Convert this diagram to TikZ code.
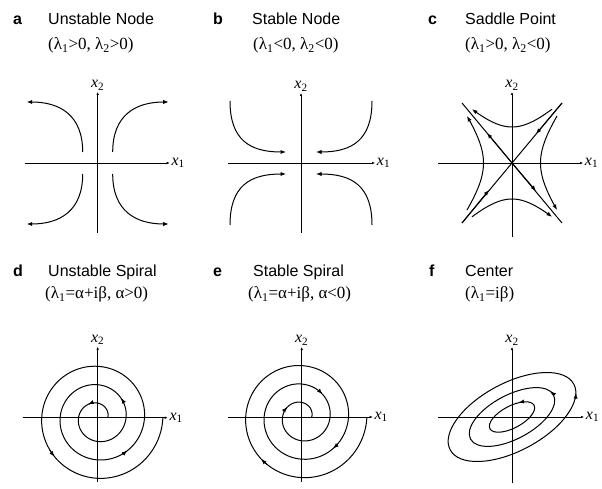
\documentclass[tikz,border=0pt]{standalone}
\usepackage{fontspec}
\setmainfont{Liberation Serif}
\setsansfont{Liberation Sans}
\usetikzlibrary{arrows.meta}

% axes of one phase portrait: name, left, right, bottom, top
\newcommand{\phaseaxes}[5]{%
  \draw[axis] (#2,0) -- (#3,0) node[lab, right] (#1-x1) {\textit{x}\textsubscript{1}};
  \draw[axis] (0,#4) -- (0,#5) node[lab, above] (#1-x2) {\textit{x}\textsubscript{2}};
}

\begin{document}
\begin{tikzpicture}[x=1pt, y=1pt,
    declare function={spr(\r)=10+0.051111*\r;},
    axis/.style={line width=0.8pt, -{Latex[length=3pt,width=2.6pt]}},
    flow/.style={line width=1pt},
    tip/.style={line width=1pt, -{Latex[length=5.5pt,width=4.2pt]}},
    letter/.style={anchor=base west, inner sep=0pt, font=\sffamily\bfseries\fontsize{16}{18}\selectfont},
    title/.style={anchor=base west, inner sep=0pt, font=\sffamily\fontsize{16}{18}\selectfont},
    cond/.style={anchor=base west, inner sep=0pt, font=\fontsize{17}{19}\selectfont},
    lab/.style={font=\fontsize{16}{18}\selectfont, inner sep=1.5pt}]

    \useasboundingbox (0,0) rectangle (602,-489);

    % ==========================================
    % Headings
    % ==========================================
    \node[letter] (a-tag) at (13,-24.5) {a};
    \node[title] (a-title) at (48,-24.5) {Unstable Node};
    \node[cond] (a-cond) at (48,-50) {(λ\textsubscript{1}>0, λ\textsubscript{2}>0)};

    \node[letter] (b-tag) at (213,-24.5) {b};
    \node[title] (b-title) at (252,-24.5) {Stable Node};
    \node[cond] (b-cond) at (253,-50) {(λ\textsubscript{1}<0, λ\textsubscript{2}<0)};

    \node[letter] (c-tag) at (428,-24.5) {c};
    \node[title] (c-title) at (465,-24.5) {Saddle Point};
    \node[cond] (c-cond) at (465,-50) {(λ\textsubscript{1}>0, λ\textsubscript{2}<0)};

    \node[letter] (d-tag) at (13,-276) {d};
    \node[title] (d-title) at (48,-276) {Unstable Spiral};
    \node[cond] (d-cond) at (45,-298.5) {(λ\textsubscript{1}=α+iβ, α>0)};

    \node[letter] (e-tag) at (213,-276) {e};
    \node[title] (e-title) at (253,-276) {Stable Spiral};
    \node[cond] (e-cond) at (248,-298.5) {(λ\textsubscript{1}=α+iβ, α<0)};

    \node[letter] (f-tag) at (429,-276) {f};
    \node[title] (f-title) at (465,-276) {Center};
    \node[cond] (f-cond) at (465,-298.5) {(λ\textsubscript{1}=iβ)};

    % ==========================================
    % (a) Unstable node
    % ==========================================
    \begin{scope}[shift={(97.7,-163)}]
        \phaseaxes{a}{-73}{72}{-70}{71}
        \foreach \sx in {1,-1}
            \foreach \sy in {1,-1}
                \draw[tip] (\sx*15,\sy*11) .. controls (\sx*15,\sy*48) and (\sx*38,\sy*61) .. (\sx*71,\sy*61);
    \end{scope}

    % ==========================================
    % (b) Stable node
    % ==========================================
    \begin{scope}[shift={(301,-163)}]
        \phaseaxes{b}{-73}{74}{-70}{70}
        \foreach \sx in {1,-1}
            \foreach \sy in {1,-1}
                \draw[tip] (\sx*71,\sy*62) .. controls (\sx*71,\sy*23) and (\sx*51,\sy*11) .. (\sx*15,\sy*11);
    \end{scope}

    % ==========================================
    % (c) Saddle point
    % ==========================================
    \begin{scope}[shift={(512,-163)}]
        \phaseaxes{c}{-74}{71}{-74}{71}
        % eigen directions
        \draw[flow] (-50,60) -- (50,-60);
        \draw[flow] (50,60) -- (-50,-60);
        \draw[tip] (0,0) -- (-25,30);
        \draw[tip] (0,0) -- (24,-28);
        \draw[tip] (50,60) -- (24,29);
        \draw[tip] (-50,-60) -- (-23,-27);
        % hyperbolas
        \draw[tip] plot[domain=-40:40, samples=31, smooth, variable=\t] ({-\t},{sqrt(1296+\t*\t)});
        \draw[tip] plot[domain=-40:40, samples=31, smooth, variable=\t] ({\t},{-sqrt(1296+\t*\t)});
        \draw[tip] plot[domain=-47:47, samples=31, smooth, variable=\t] ({-sqrt(812+0.55*\t*\t)},{\t});
        \draw[tip] plot[domain=-47:47, samples=31, smooth, variable=\t] ({sqrt(812+0.55*\t*\t)},{-\t});
    \end{scope}

    % ==========================================
    % (d) Unstable spiral
    % ==========================================
    \begin{scope}[shift={(97.7,-417.7)}]
        \phaseaxes{d}{-75}{70}{-64}{71}
        \draw[flow] plot[domain=0:1080, samples=181, smooth, variable=\t] ({spr(\t)*cos(\t)},{spr(\t)*sin(\t)});
        \foreach \a in {125,400,672,942}
            \draw[tip] plot[domain=0:8, samples=5, variable=\t] ({spr(\a-8+\t)*cos(\a-8+\t)},{spr(\a-8+\t)*sin(\a-8+\t)});
    \end{scope}

    % ==========================================
    % (e) Stable spiral
    % ==========================================
    \begin{scope}[shift={(301.7,-417)}]
        \phaseaxes{e}{-74}{71}{-65}{70}
        \draw[flow] plot[domain=0:1080, samples=181, smooth, variable=\t] ({spr(\t)*cos(\t)},{spr(\t)*sin(\t)});
        \foreach \a in {146,408,675,946}
            \draw[tip] plot[domain=0:8, samples=5, variable=\t] ({spr(\a+8-\t)*cos(\a+8-\t)},{spr(\a+8-\t)*sin(\a+8-\t)});
    \end{scope}

    % ==========================================
    % (f) Center
    % ==========================================
    \begin{scope}[shift={(512,-417)}]
        \phaseaxes{f}{-74}{72}{-66}{70}
        \foreach \ra/\rb/\ta in {70/34/-15, 47/22/12, 25/11/60} {
            \draw[flow, rotate=28] (0,0) ellipse [x radius=\ra, y radius=\rb];
            \draw[tip, rotate=28] plot[domain=0:8, samples=5, variable=\t] ({\ra*cos(\ta-8+\t)},{\rb*sin(\ta-8+\t)});
        }
    \end{scope}

\end{tikzpicture}
\end{document}
